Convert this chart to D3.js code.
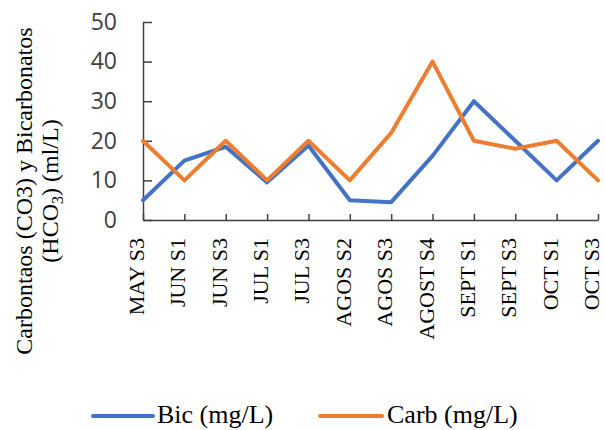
<!DOCTYPE html>
<html>
<head>
<meta charset="utf-8">
<script src="https://cdn.jsdelivr.net/npm/d3@7"></script>
<style>
  html, body { margin: 0; padding: 0; background: #ffffff; }
  svg { display: block; }
</style>
</head>
<body>
<svg id="chart" width="605" height="430"></svg>
<script>
// Sampling periods along the x axis
const categories = ["MAY S3", "JUN S1", "JUN S3", "JUL S1", "JUL S3", "AGOS S2",
                    "AGOS S3", "AGOST S4", "SEPT S1", "SEPT S3", "OCT S1", "OCT S3"];
// Bicarbonate concentration (mg/L)
const bicValues  = [5, 15, 18.5, 9.5, 18.8, 5, 4.5, 16.2, 30, 20, 10, 20];
// Carbonate concentration (mg/L)
const carbValues = [20, 10, 20, 10, 20, 10, 22, 40, 20, 18, 20, 10];
// Value-axis ticks
const yTicks = [0, 10, 20, 30, 40, 50];
const seriesNames = ["Bic (mg/L)", "Carb (mg/L)"];
const seriesColors = ["#4472C4", "#ED7D31"];

const svg = d3.select("#chart");
const plotLeft = 143, plotRight = 598, plotTop = 22, plotBottom = 220;
const axisColor = "#404040";
const serif = "'Liberation Serif', 'Times New Roman', serif";
const sans = "'Open Sans', 'Noto Sans', sans-serif";

const x = d3.scalePoint().domain(categories).range([plotLeft, plotRight]).padding(0);
const y = d3.scaleLinear().domain([0, 50]).range([plotBottom, plotTop]);

// Value axis with inward ticks
const yAxis = svg.append("g")
  .attr("transform", `translate(${plotLeft},0)`)
  .call(d3.axisLeft(y).tickValues(yTicks).tickSizeInner(-9).tickSizeOuter(0).tickPadding(26));
yAxis.select(".domain").attr("stroke", axisColor).attr("stroke-width", 1.5);
yAxis.selectAll(".tick line").attr("stroke", axisColor).attr("stroke-width", 1.5);
yAxis.selectAll(".tick text")
  .attr("fill", "#404040")
  .style("font-family", sans)
  .style("font-size", "23px");

// Category axis with upward ticks
const xAxis = svg.append("g")
  .attr("transform", `translate(0,${plotBottom})`)
  .call(d3.axisBottom(x).tickSizeInner(-6).tickSizeOuter(0).tickFormat(""));
xAxis.select(".domain").attr("stroke", axisColor).attr("stroke-width", 1.5);
xAxis.selectAll(".tick line").attr("stroke", axisColor).attr("stroke-width", 1.5);

// Rotated category labels
svg.append("g").selectAll("text")
  .data(categories)
  .join("text")
  .attr("transform", d => `translate(${x(d) + 1},238) rotate(-90)`)
  .attr("text-anchor", "end")
  .attr("fill", "#000")
  .style("font-family", serif)
  .style("font-size", "22px")
  .text(d => d);

// Series lines
const line = d3.line().x((d, i) => x(categories[i])).y(d => y(d));
[bicValues, carbValues].forEach((vals, k) => {
  svg.append("path")
    .datum(vals)
    .attr("d", line)
    .attr("fill", "none")
    .attr("stroke", seriesColors[k])
    .attr("stroke-width", 4)
    .attr("stroke-linejoin", "round")
    .attr("stroke-linecap", "round");
});

// Value-axis title (two lines, subscript in the second)
const titleY = 191;
svg.append("text")
  .attr("transform", `translate(32,${titleY}) rotate(-90)`)
  .attr("text-anchor", "middle")
  .style("font-family", serif)
  .style("font-size", "24px")
  .attr("fill", "#000")
  .text("Carbontaos (CO3) y Bicarbonatos");
const t2 = svg.append("text")
  .attr("transform", `translate(58,${titleY}) rotate(-90)`)
  .attr("text-anchor", "middle")
  .style("font-family", serif)
  .style("font-size", "24px")
  .attr("fill", "#000");
t2.append("tspan").text("(HCO");
t2.append("tspan").attr("dy", 5).style("font-size", "16px").text("3");
t2.append("tspan").attr("dy", -5).text(") (ml/L)");

// Legend
const legendItems = [
  { x0: 93, x1: 153, tx: 157 },
  { x0: 320, x1: 382, tx: 387 }
];
legendItems.forEach((it, k) => {
  svg.append("line")
    .attr("x1", it.x0).attr("x2", it.x1)
    .attr("y1", 416).attr("y2", 416)
    .attr("stroke", seriesColors[k])
    .attr("stroke-width", 4)
    .attr("stroke-linecap", "round");
  svg.append("text")
    .attr("x", it.tx).attr("y", 423)
    .style("font-family", serif)
    .style("font-size", "26px")
    .attr("fill", "#000")
    .text(seriesNames[k]);
});
</script>
</body>
</html>
